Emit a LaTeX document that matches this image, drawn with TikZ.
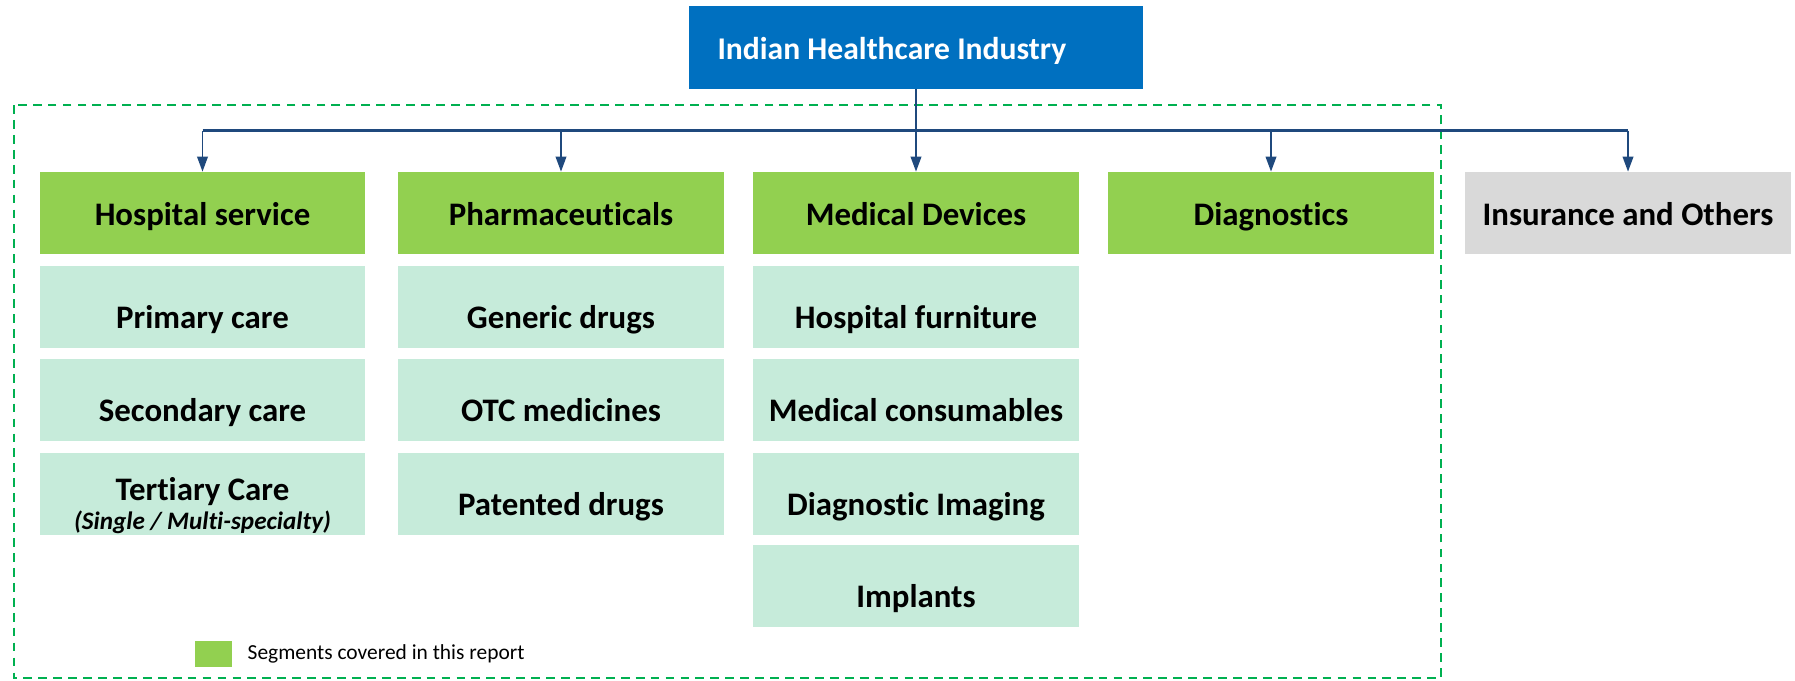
\documentclass[tikz,border=0pt]{standalone}
\usepackage{fontspec}
\setmainfont{Carlito}[Ligatures={NoCommon}]
\usetikzlibrary{arrows.meta,positioning}
\definecolor{topblue}{HTML}{0070C0}
\definecolor{segreen}{HTML}{92D050}
\definecolor{subgreen}{HTML}{C6EBDA}
\definecolor{othergray}{HTML}{D9D9D9}
\definecolor{linkblue}{HTML}{1F497D}
\definecolor{dashgreen}{HTML}{00B050}
\begin{document}
\begin{tikzpicture}
[x=0.02cm,y=-0.02cm,>={Triangle[length=8.5pt,width=6pt]},
head/.style = {fill = segreen, minimum width=6.52cm, minimum height=1.64cm, inner sep=0pt, text height=0.65cm, text depth=0.15cm, font=\fontsize{18.7}{22}\selectfont\bfseries},
sub/.style = {fill = subgreen, minimum width=6.52cm, minimum height=1.64cm, inner sep=0pt, align=center, text height=1.01cm, text depth=0.15cm, font=\fontsize{18.7}{22}\selectfont\bfseries},
link/.style = {draw=linkblue, line width=1pt},]
\useasboundingbox (0,0) rectangle (1795,680);
\draw [dashgreen, line width=1.4pt, dash pattern=on 5pt off 3.5pt] (14,105) rectangle (1441,678);
\node (top) at (916,47.5)[fill=topblue, text=white, minimum width=9.08cm, minimum height=1.66cm, inner xsep=0.57cm, inner ysep=0pt, text width=7.94cm, align=flush left, text height=0.61cm, text depth=0.15cm, font=\fontsize{18}{21}\selectfont\bfseries] {Indian Healthcare Industry};
\node (hosp) at (202.5,213)[head] {Hospital service};
\node (pharma) at (561,213)[head] {Pharmaceuticals};
\node (devices) at (916,213)[head] {Medical Devices};
\node (diag) at (1271,213)[head] {Diagnostics};
\node (ins) at (1628,213)[head, fill=othergray] {Insurance and Others};
\node (primary) at (202.5,307)[sub] {Primary care};
\node (secondary) at (202.5,399.5)[sub] {Secondary care};
\node (tertiary) at (202.5,493.5)[sub, text height=1.52cm, text depth=0.1cm] {Tertiary Care\\[-5.5pt]{\fontsize{14.3}{17}\selectfont\itshape (Single / Multi-specialty)}};
\node (generic) at (561,307)[sub] {Generic drugs};
\node (otc) at (561,399.5)[sub] {OTC medicines};
\node (patented) at (561,493.5)[sub] {Patented drugs};
\node (furniture) at (916,307)[sub] {Hospital furniture};
\node (consumables) at (916,399.5)[sub] {Medical consumables};
\node (imaging) at (916,493.5)[sub] {Diagnostic Imaging};
\node (implants) at (916,586)[sub] {Implants};
\node (legend) at (213.5,654)[fill=segreen, minimum width=0.74cm, minimum height=0.52cm, inner sep=0pt] {};
\node (legendtext) [right=0.3cm of legend, inner sep=0pt, font=\fontsize{12.2}{14}\selectfont] {Segments covered in this report};
\coordinate (bus) at (916,130.5);
\draw [link, line width=1.5pt] (top) -- (bus);
\draw [link, line width=1.5pt] (bus -| hosp) -- (bus -| ins);
\draw [link,->] (bus -| hosp) -- (hosp);
\draw [link,->] (bus -| pharma) -- (pharma);
\draw [link,->] (bus) -- (devices);
\draw [link,->] (bus -| diag) -- (diag);
\draw [link,->] (bus -| ins) -- (ins);
\end{tikzpicture}
\end{document}
